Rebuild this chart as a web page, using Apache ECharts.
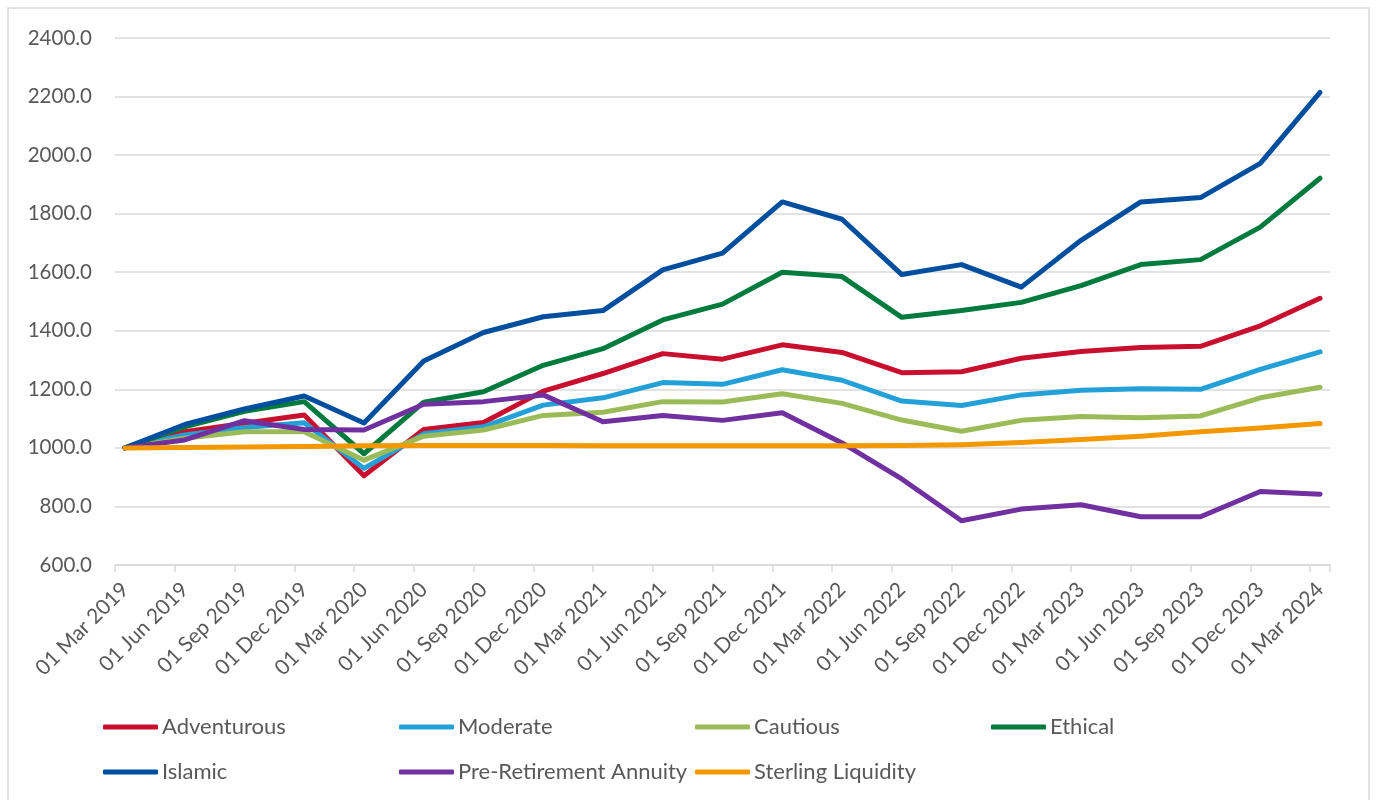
<!DOCTYPE html>
<html>
<head>
<meta charset="utf-8">
<script src="https://cdn.jsdelivr.net/npm/echarts@6/dist/echarts.min.js"></script>
<style>
html,body{margin:0;padding:0;background:#fff;}
#chart{width:1377px;height:800px;}
</style>
</head>
<body>
<div id="chart"></div>
<script>
// ---- data ----
const quarterLabels = ['01 Mar 2019','01 Jun 2019','01 Sep 2019','01 Dec 2019','01 Mar 2020','01 Jun 2020','01 Sep 2020','01 Dec 2020','01 Mar 2021','01 Jun 2021','01 Sep 2021','01 Dec 2021','01 Mar 2022','01 Jun 2022','01 Sep 2022','01 Dec 2022','01 Mar 2023','01 Jun 2023','01 Sep 2023','01 Dec 2023','01 Mar 2024'];
const seriesNames = ['Adventurous','Moderate','Cautious','Ethical','Islamic','Pre-Retirement Annuity','Sterling Liquidity'];
const adventurous = [1000,1055,1084,1112,905,1063,1087,1194,1254,1322,1303,1352,1326,1257,1260,1306,1329,1343,1347,1417,1511];
const moderate    = [1000,1044,1070,1086,930,1048,1072,1146,1171,1223,1217,1267,1231,1160,1145,1181,1197,1202,1200,1268,1328];
const cautious    = [1000,1033,1055,1055,958,1040,1061,1111,1122,1158,1157,1185,1152,1095,1057,1094,1107,1103,1109,1171,1207];
const ethical     = [1000,1072,1125,1158,980,1156,1192,1282,1339,1437,1491,1600,1585,1446,1469,1497,1554,1626,1643,1754,1921];
const islamic     = [1000,1080,1133,1177,1085,1297,1394,1448,1469,1608,1665,1840,1781,1592,1626,1549,1709,1840,1855,1972,2214];
const preRetire   = [1000,1027,1093,1063,1061,1149,1158,1181,1089,1111,1094,1120,1017,894,751,791,806,765,765,851,842];
const sterling    = [1000,1001,1003,1005,1007,1008,1008,1008,1007,1007,1007,1007,1007,1008,1011,1018,1029,1040,1055,1068,1083];
const yTicks = {min:600, max:2400, interval:200};

// ---- build monthly axis (Excel date axis, 3-month labels) ----
const months = [];
quarterLabels.forEach((q, i) => {
  months.push(q);
  if (i < quarterLabels.length - 1) { months.push(q + '#1'); months.push(q + '#2'); }
});
function expand(arr){
  const out = [];
  arr.forEach((v, i) => { out.push(v); if (i < arr.length - 1) { out.push(null); out.push(null); } });
  return out;
}
const colors = ['#C8102E','#23A0D8','#9BBB59','#007A3D','#004F9E','#7030A0','#F39800'];
const allData = [adventurous, moderate, cautious, ethical, islamic, preRetire, sterling];

const FONT = 'Lato';
const TXT = '#595959';
const legendPos = [[103,716],[399,716],[695,716],[991,716],[103,761],[399,761],[695,761]];

const chart = echarts.init(document.getElementById('chart'));
chart.setOption({
  animation: false,
  backgroundColor: '#fff',
  graphic: [{
    type: 'rect', shape: {x: 8, y: 8, width: 1361, height: 810},
    style: {fill: 'none', stroke: '#d9d9d9', lineWidth: 1.5}, silent: true, z: -1
  }],
  grid: {left: 115, right: 47, top: 38, bottom: 235, containLabel: false},
  legend: seriesNames.map((n, i) => ({
    data: [n], left: legendPos[i][0], top: legendPos[i][1], padding: 0,
    icon: 'roundRect', itemWidth: 55, itemHeight: 5,
    textStyle: {fontFamily: FONT, fontSize: 22, color: TXT, padding: [0,0,0,-1]},
    selectedMode: false
  })),
  xAxis: {
    type: 'category', data: months, boundaryGap: true,
    axisLine: {lineStyle: {color: '#d9d9d9', width: 1.5}},
    axisTick: {show: true, length: 7, lineStyle: {color: '#d9d9d9', width: 1.5}, interval: (idx) => idx % 3 === 0},
    axisLabel: {interval: (idx) => idx % 3 === 0, rotate: 45, margin: 21, fontFamily: FONT, fontSize: 21, color: TXT},
    splitLine: {show: false}
  },
  yAxis: {
    type: 'value', min: yTicks.min, max: yTicks.max, interval: yTicks.interval,
    axisLine: {show: false}, axisTick: {show: false},
    axisLabel: {formatter: (v) => v.toFixed(1), margin: 23, fontFamily: FONT, fontSize: 20.5, color: TXT},
    splitLine: {lineStyle: {color: '#d9d9d9', width: 1.5}}
  },
  series: seriesNames.map((n, i) => ({
    name: n, type: 'line', data: expand(allData[i]), connectNulls: true,
    showSymbol: false, symbol: 'none', color: colors[i],
    lineStyle: {width: 5, color: colors[i], cap: 'round', join: 'round'}
  }))
});
</script>
</body>
</html>
